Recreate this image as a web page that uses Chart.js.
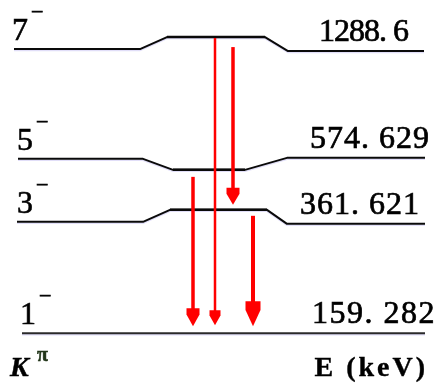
<!DOCTYPE html>
<html>
<head>
<meta charset="utf-8">
<script src="https://cdn.jsdelivr.net/npm/chart.js@4/dist/chart.umd.min.js"></script>
<style>
  html, body { margin: 0; padding: 0; background: #fff; }
  canvas { display: block; }
</style>
</head>
<body>
<canvas id="scheme" width="435" height="392"></canvas>
<script>
// Rotational band levels (K^pi = 1-, 3-, 5-, 7-)
const levelSpin = ['7', '5', '3', '1'];
const levelParity = ['\u2212', '\u2212', '\u2212', '\u2212'];
const levelEnergy = [1288.6, 574.629, 361.621, 159.282]; // keV

// Gamma transitions: initial and final level energies (keV)
const gammaFrom = [1288.6, 1288.6, 574.629, 361.621];
const gammaTo   = [159.282, 361.621, 159.282, 159.282];

// Column headings under the scheme
const leftHeading = 'K';
const leftHeadingSup = '\u03C0';
const rightHeading = 'E (keV)';

// ---- drawing style (horizontal units equal canvas pixels) ----
const levelShape = [
  { x0: 14, x1: 140, x2: 167, x3: 265, x4: 288, x5: 424, bend: -12, tail: 2 },
  { x0: 18, x1: 143, x2: 173, x3: 245, x4: 287, x5: 425, bend: 11, tail: -1 },
  { x0: 17, x1: 143, x2: 170, x3: 267, x4: 287, x5: 425, bend: -12, tail: 2 },
  { x0: 22, x5: 425, bend: 0, tail: 0 }
];
const spinLabelX = [12, 17, 17, 20];
const energyLabelX = [319, 310, 300, 312];
const energyLabelSpacing = [-1, 1, 1, 1.5];

const gammaStyle = [
  { x: 215, w: 2.5, headW: 11, headL: 15, gap0: 1,  gap1: 8 },
  { x: 233, w: 3.5, headW: 13, headL: 17, gap0: 10, gap1: 5 },
  { x: 193, w: 3.5, headW: 13, headL: 18, gap0: 7,  gap1: 7 },
  { x: 253, w: 4,   headW: 15, headL: 25, gap0: 6,  gap1: 7 }
];

const SERIF = '"Liberation Serif", "DejaVu Serif", serif';

function levelPath(i, xs, ys) {
  const s = levelShape[i];
  const yv = ys.getPixelForValue(levelEnergy[i]);
  const px = v => xs.getPixelForValue(v);
  if (!s.bend) return [[px(s.x0), yv], [px(s.x5), yv]];
  return [
    [px(s.x0), yv], [px(s.x1), yv],
    [px(s.x2), yv + s.bend], [px(s.x3), yv + s.bend],
    [px(s.x4), yv + s.tail], [px(s.x5), yv + s.tail]
  ];
}

function yOnPath(path, xp) {
  for (let k = 0; k < path.length - 1; k++) {
    const [ax, ay] = path[k], [bx, by] = path[k + 1];
    if (xp >= ax && xp <= bx) return ay + (by - ay) * (xp - ax) / (bx - ax);
  }
  return path[0][1];
}

// text with a hairline outline so the serif strokes read heavier
function heavyText(ctx, txt, x, y, outline) {
  ctx.fillText(txt, x, y);
  if (outline) {
    ctx.lineWidth = outline;
    ctx.strokeStyle = ctx.fillStyle;
    ctx.strokeText(txt, x, y);
  }
}

const schemePlugin = {
  id: 'levelScheme',
  afterDraw(chart) {
    const { ctx } = chart;
    const xs = chart.scales.x, ys = chart.scales.y;
    ctx.save();

    // level lines
    const paths = levelEnergy.map((_, i) => levelPath(i, xs, ys));
    paths.forEach((path, i) => {
      // faint fringe under each line
      ctx.strokeStyle = 'rgba(170,160,235,0.35)';
      ctx.lineWidth = 1.5;
      ctx.beginPath();
      path.forEach(([px, py], k) => k ? ctx.lineTo(px, py + 1.5) : ctx.moveTo(px, py + 1.5));
      ctx.stroke();

      ctx.strokeStyle = i === 3 ? '#2a2a2a' : '#0a0a0a';
      ctx.lineWidth = 2;
      ctx.lineJoin = 'round';
      ctx.beginPath();
      path.forEach(([px, py], k) => k ? ctx.lineTo(px, py) : ctx.moveTo(px, py));
      ctx.stroke();

      if (levelShape[i].bend) {
        ctx.lineWidth = 2.5;
        ctx.beginPath();
        ctx.moveTo(path[2][0], path[2][1]);
        ctx.lineTo(path[3][0], path[3][1]);
        ctx.stroke();
      }
    });

    // gamma arrows
    ctx.fillStyle = '#ff0000';
    ctx.strokeStyle = '#ff0000';
    gammaFrom.forEach((eFrom, g) => {
      const st = gammaStyle[g];
      const xp = xs.getPixelForValue(st.x);
      const iFrom = levelEnergy.indexOf(eFrom);
      const iTo = levelEnergy.indexOf(gammaTo[g]);
      const y0 = yOnPath(paths[iFrom], xp) + st.gap0;
      const tip = yOnPath(paths[iTo], xp) - st.gap1;
      const top = tip - st.headL;
      ctx.lineWidth = st.w;
      ctx.lineCap = 'butt';
      ctx.beginPath();
      ctx.moveTo(xp, y0);
      ctx.lineTo(xp, top + 1);
      ctx.stroke();
      const hw = st.headW / 2;
      ctx.beginPath();
      ctx.moveTo(xp - hw, top);
      ctx.lineTo(xp + hw, top);
      ctx.lineTo(xp + hw, top + st.headL * 0.35);
      ctx.lineTo(xp, tip);
      ctx.lineTo(xp - hw, top + st.headL * 0.35);
      ctx.closePath();
      ctx.fill();
    });

    // spin labels and energies
    ctx.fillStyle = '#000';
    ctx.textBaseline = 'alphabetic';
    ctx.lineJoin = 'miter';
    paths.forEach((path, i) => {
      const leftY = path[0][1];
      const rightY = path[path.length - 1][1];
      const base = leftY - 9;
      ctx.font = '32px ' + SERIF;
      ctx.letterSpacing = '0px';
      ctx.textAlign = 'left';
      const sx = xs.getPixelForValue(spinLabelX[i]);
      heavyText(ctx, levelSpin[i], sx, base, 0.6);
      const wSpin = ctx.measureText(levelSpin[i]).width;
      ctx.font = '22px ' + SERIF;
      heavyText(ctx, levelParity[i], sx + wSpin + 3, base - 21, 0.8);

      ctx.font = '32px ' + SERIF;
      ctx.letterSpacing = energyLabelSpacing[i] + 'px';
      const txt = String(levelEnergy[i]).replace('.', '. ');
      heavyText(ctx, txt, xs.getPixelForValue(energyLabelX[i]), rightY - 10, 0.7);
    });

    // column headings
    ctx.letterSpacing = '0px';
    ctx.font = 'italic bold 28px ' + SERIF;
    heavyText(ctx, leftHeading, xs.getPixelForValue(10), 376, 0.5);
    ctx.fillStyle = '#22361a';
    ctx.font = 'bold 20px ' + SERIF;
    heavyText(ctx, leftHeadingSup, xs.getPixelForValue(37), 361, 0.5);
    ctx.fillStyle = '#000';
    ctx.font = 'bold 28px ' + SERIF;
    ctx.letterSpacing = '3px';
    ctx.textAlign = 'right';
    heavyText(ctx, rightHeading, xs.getPixelForValue(428), 376, 0.4);
    ctx.restore();
  }
};

new Chart(document.getElementById('scheme'), {
  type: 'scatter',
  data: { datasets: [] },
  options: {
    responsive: false,
    animation: false,
    devicePixelRatio: 1,
    layout: { padding: 0 },
    plugins: { legend: { display: false }, tooltip: { enabled: false } },
    scales: {
      x: { type: 'linear', display: false, bounds: 'data', min: 0, max: 435 },
      y: { type: 'logarithmic', display: false, bounds: 'data', min: 103.4, max: 1849 }
    }
  },
  plugins: [schemePlugin]
});
</script>
</body>
</html>
